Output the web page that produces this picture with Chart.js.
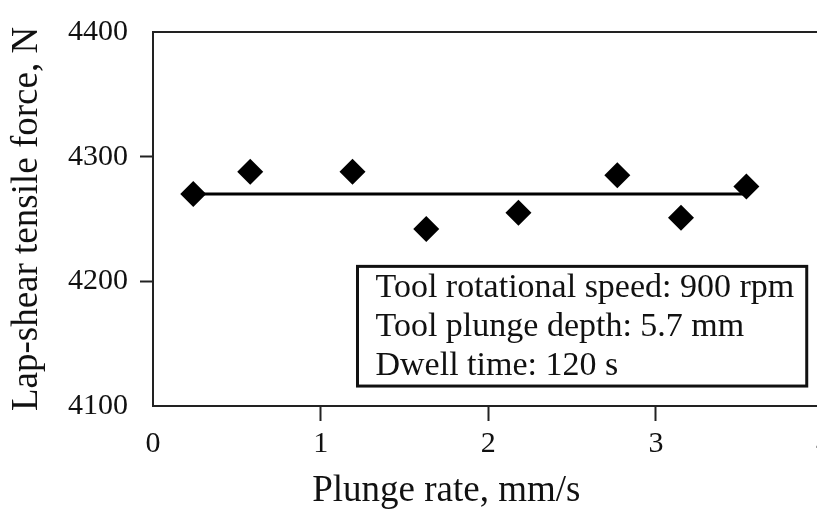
<!DOCTYPE html>
<html>
<head>
<meta charset="utf-8">
<title>Lap-shear tensile force vs plunge rate</title>
<script src="https://cdn.jsdelivr.net/npm/chart.js@4.4.1/dist/chart.umd.min.js"></script>
<style>
  html, body { margin: 0; padding: 0; background: #fff; overflow: hidden; }
  canvas { display: block; }
</style>
</head>
<body>
<canvas id="forceChart" width="836" height="510"></canvas>
<script>
// Measured points (plunge rate in mm/s, force in N)
const plungeRates = [0.24, 0.58, 1.19, 1.63, 2.18, 2.77, 3.15, 3.54];
const shearForces = [4270, 4288, 4288, 4242, 4255, 4285, 4251, 4276];

// Mean line drawn across the data
const meanLineX = [0.24, 3.54];
const meanLineY = [4270, 4270];

// Axis ranges and tick steps
const xRange = [0, 4];
const yRange = [4100, 4400];
const xStep = 1;
const yStep = 100;

const xTitle = 'Plunge rate, mm/s';
const yTitle = 'Lap-shear tensile force, N';

// Process parameters shown in the boxed note
const noteLines = [
    'Tool rotational speed: 900 rpm',
    'Tool plunge depth: 5.7 mm',
    'Dwell time: 120 s'
];

const FONT = '"Liberation Serif", "Times New Roman", serif';
const INK = '#111';

/**
 * Pairs two arrays into {x, y} points for Chart.js.
 */
function toPoints(xs, ys) {
    return xs.map((x, i) => ({ x: x, y: ys[i] }));
}

/**
 * Draws the top frame line, the x-axis title (centred under the visible part)
 * and the boxed parameter note.
 */
const frameAndNote = {
    id: 'frameAndNote',
    afterDraw(chart) {
        const { ctx, chartArea, scales } = chart;
        ctx.save();
        ctx.strokeStyle = '#222';
        ctx.lineWidth = 2;
        ctx.beginPath();
        ctx.moveTo(chartArea.left, chartArea.top);
        ctx.lineTo(chartArea.right, chartArea.top);
        ctx.stroke();

        // x-axis title
        ctx.fillStyle = INK;
        ctx.font = '37px ' + FONT;
        ctx.textAlign = 'center';
        ctx.textBaseline = 'middle';
        ctx.fillText(xTitle, scales.x.getPixelForValue(1.75), scales.x.bottom - 19);

        // note box, placed in axis units
        const left = scales.x.getPixelForValue(1.22);
        const right = scales.x.getPixelForValue(3.9);
        const top = scales.y.getPixelForValue(4212);
        const bottom = scales.y.getPixelForValue(4116);
        ctx.lineWidth = 3;
        ctx.strokeStyle = INK;
        ctx.strokeRect(left, top, right - left, bottom - top);

        ctx.font = '34px ' + FONT;
        ctx.textAlign = 'left';
        noteLines.forEach((line, i) => {
            ctx.fillText(line, left + 18, top + 22 + i * 39);
        });
        ctx.restore();
    }
};

/**
 * Hides the tick marks that sit on the corners of the frame.
 */
function cornerTickColor(range) {
    return c => (c.tick && (c.tick.value === range[0] || c.tick.value === range[1])) ? 'rgba(0,0,0,0)' : '#222';
}

function createChart() {
    const ctx = document.getElementById('forceChart').getContext('2d');
    return new Chart(ctx, {
        type: 'scatter',
        data: {
            datasets: [
                {
                    label: 'Lap-shear tensile force',
                    data: toPoints(plungeRates, shearForces),
                    pointStyle: 'rectRot',
                    pointRadius: 13,
                    pointHoverRadius: 13,
                    backgroundColor: '#000',
                    borderColor: '#000',
                    borderWidth: 0,
                    showLine: false
                },
                {
                    label: 'Mean',
                    data: toPoints(meanLineX, meanLineY),
                    showLine: true,
                    borderColor: '#000',
                    borderWidth: 3,
                    pointRadius: 0,
                    fill: false
                }
            ]
        },
        options: {
            responsive: false,
            animation: false,
            devicePixelRatio: 1,
            layout: {
                autoPadding: false,
                padding: { top: 32, right: 0, bottom: 0, left: 0 }
            },
            plugins: {
                legend: { display: false },
                tooltip: { enabled: false }
            },
            scales: {
                x: {
                    type: 'linear',
                    min: xRange[0],
                    max: xRange[1],
                    afterFit: scale => { scale.height = 104; },
                    ticks: {
                        stepSize: xStep,
                        color: INK,
                        padding: 5,
                        font: { family: FONT, size: 30 },
                        maxRotation: 0
                    },
                    grid: {
                        drawOnChartArea: false,
                        drawTicks: true,
                        tickLength: 15,
                        tickWidth: 2,
                        tickColor: cornerTickColor(xRange)
                    },
                    border: { display: true, color: '#222', width: 2 },
                    title: { display: false }
                },
                y: {
                    type: 'linear',
                    min: yRange[0],
                    max: yRange[1],
                    afterFit: scale => { scale.width = 153; },
                    ticks: {
                        stepSize: yStep,
                        color: INK,
                        padding: 12,
                        font: { family: FONT, size: 30 },
                        callback: value => String(value)
                    },
                    grid: {
                        drawOnChartArea: false,
                        drawTicks: true,
                        tickLength: 13,
                        tickWidth: 2,
                        tickColor: cornerTickColor(yRange)
                    },
                    border: { display: true, color: '#222', width: 2 },
                    title: {
                        display: true,
                        text: yTitle,
                        color: INK,
                        font: { family: FONT, size: 37, lineHeight: 1 },
                        padding: { top: 9, bottom: 0 }
                    }
                }
            }
        },
        plugins: [frameAndNote]
    });
}

window.onload = function() {
    window.forceChart = createChart();
};
</script>
</body>
</html>
